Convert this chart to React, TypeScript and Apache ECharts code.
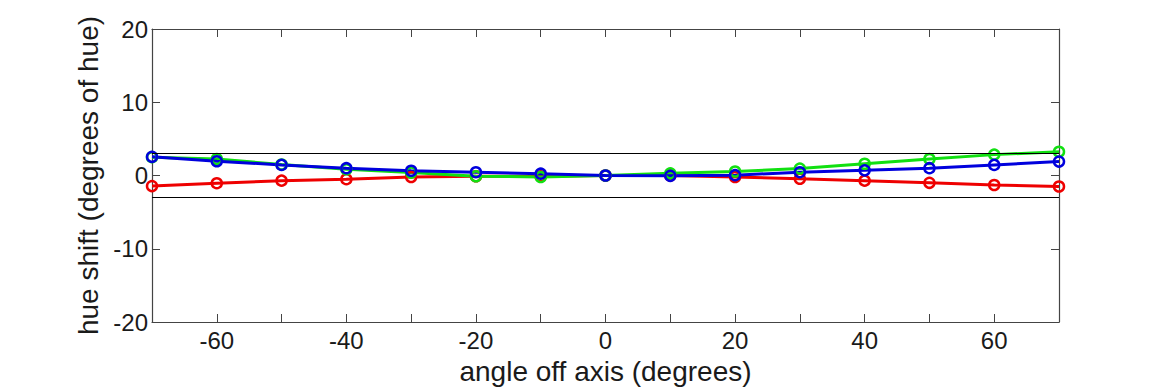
import React, { useEffect, useRef } from "react";
import * as echarts from "echarts";

const angles = [-70, -60, -50, -40, -30, -20, -10, 0, 10, 20, 30, 40, 50, 60, 70];
const redShift = [-1.45, -1.05, -0.7, -0.5, -0.2, -0.1, -0.1, 0, 0, -0.2, -0.45, -0.7, -1.0, -1.3, -1.5];
const greenShift = [2.5, 2.25, 1.5, 0.85, 0.4, -0.1, -0.2, 0, 0.3, 0.55, 0.95, 1.6, 2.25, 2.85, 3.25];
const blueShift = [2.55, 1.95, 1.45, 1.0, 0.65, 0.45, 0.25, 0, -0.05, 0.05, 0.45, 0.7, 1.0, 1.45, 1.9];
const limits = [3, -3];
const xTicks = [-60, -40, -20, 0, 20, 40, 60];
const yTicks = [-20, -10, 0, 10, 20];

const FONT = "'Liberation Sans', Arial, Helvetica, sans-serif";
const AXIS_COLOR = "#444";
const TEXT_COLOR = "#1a1a1a";

export default function App() {
  const ref = useRef<HTMLDivElement>(null);
  useEffect(() => {
    if (!ref.current) return;
    const chart = echarts.init(ref.current, undefined, { renderer: "svg" });
    const mk = (name: string, color: string, vals: number[]) => ({
      name,
      type: "line",
      data: angles.map((a, i) => [a, vals[i]]),
      symbol: "circle",
      symbolSize: 10,
      showSymbol: true,
      lineStyle: { color, width: 3 },
      itemStyle: { color: "rgba(0,0,0,0)", borderColor: color, borderWidth: 2.5 },
      z: 3,
    });
    const xTickShow = (_i: number, v: any) => xTicks.includes(Number(v));
    chart.setOption({
      animation: false,
      backgroundColor: "#fff",
      grid: { left: 152, right: 111, top: 29, bottom: 63, show: false },
      xAxis: [
        {
          type: "value",
          min: -70,
          max: 70,
          interval: 10,
          position: "bottom",
          axisLine: { show: true, onZero: false, lineStyle: { color: AXIS_COLOR, width: 1.2 } },
          axisTick: { show: true, inside: true, length: 8, lineStyle: { color: AXIS_COLOR }, interval: xTickShow },
          axisLabel: {
            color: TEXT_COLOR,
            fontSize: 24,
            fontFamily: FONT,
            margin: 6,
            formatter: (v: number) => (xTicks.includes(v) ? String(v) : ""),
            showMinLabel: false,
            showMaxLabel: false,
          },
          splitLine: { show: false },
          name: "angle off axis (degrees)",
          nameLocation: "middle",
          nameGap: 35,
          nameTextStyle: { color: TEXT_COLOR, fontSize: 28, fontFamily: FONT },
        },
        {
          type: "value",
          min: -70,
          max: 70,
          interval: 10,
          position: "top",
          axisLine: { show: true, onZero: false, lineStyle: { color: AXIS_COLOR, width: 1.2 } },
          axisTick: { show: true, inside: true, length: 8, lineStyle: { color: AXIS_COLOR }, interval: xTickShow },
          axisLabel: { show: false },
          splitLine: { show: false },
        },
      ],
      yAxis: [
        {
          type: "value",
          min: -20,
          max: 20,
          interval: 10,
          position: "left",
          axisLine: { show: true, onZero: false, lineStyle: { color: AXIS_COLOR, width: 1.2 } },
          axisTick: { show: true, inside: true, length: 8, lineStyle: { color: AXIS_COLOR } },
          axisLabel: {
            color: TEXT_COLOR,
            fontSize: 24,
            fontFamily: FONT,
            margin: 4,
            formatter: (v: number) => (yTicks.includes(v) ? String(v) : ""),
          },
          splitLine: { show: false },
          name: "hue shift (degrees of hue)",
          nameLocation: "middle",
          nameGap: 38,
          nameTextStyle: { color: TEXT_COLOR, fontSize: 28, fontFamily: FONT },
        },
        {
          type: "value",
          min: -20,
          max: 20,
          interval: 10,
          position: "right",
          axisLine: { show: true, onZero: false, lineStyle: { color: AXIS_COLOR, width: 1.2 } },
          axisTick: { show: true, inside: true, length: 8, lineStyle: { color: AXIS_COLOR } },
          axisLabel: { show: false },
          splitLine: { show: false },
        },
      ],
      series: [
        {
          name: "limits",
          type: "line",
          data: [],
          markLine: {
            silent: true,
            symbol: "none",
            label: { show: false },
            lineStyle: { color: "#000", width: 1.2, type: "solid" },
            data: limits.map((v) => ({ yAxis: v })),
          },
          z: 1,
        },
        mk("red", "#ee0000", redShift),
        mk("green", "#11e011", greenShift),
        mk("blue", "#0000dd", blueShift),
      ],
    });
    return () => chart.dispose();
  }, []);
  return (
    <div
      ref={ref}
      style={{ position: "fixed", left: 0, top: 0, width: 1170, height: 390, background: "#fff" }}
    />
  );
}
